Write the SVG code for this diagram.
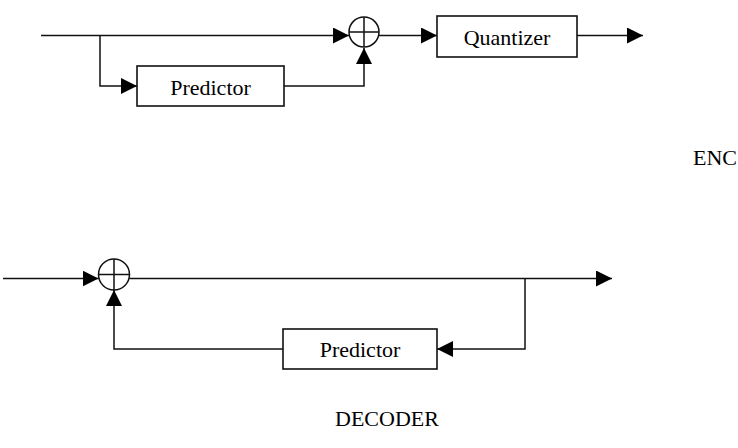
<svg xmlns="http://www.w3.org/2000/svg" width="738" height="448" viewBox="0 0 738 448">
<defs>
<style>
.ln{fill:none;stroke:#111;stroke-width:1.5}
.box{fill:#fff;stroke:#111;stroke-width:1.6}
.sum{fill:#fff;stroke:#111;stroke-width:1.5}
.t{font-family:"Liberation Serif","Times New Roman",serif;font-size:22px;fill:#000}
</style>
<marker id="ah" markerUnits="userSpaceOnUse" markerWidth="16" markerHeight="16" viewBox="0 0 14 14" refX="14" refY="7" orient="auto">
<path d="M0,0 L14,7 L0,14 Z" fill="#000"/>
</marker>
</defs>
<g id="connectors">
<path class="ln" d="M41,35.5 H349" marker-end="url(#ah)"/>
<path class="ln" d="M100,35.5 V86 H137" marker-end="url(#ah)"/>
<path class="ln" d="M284,86 H364 V48" marker-end="url(#ah)"/>
<path class="ln" d="M379,35.5 H437" marker-end="url(#ah)"/>
<path class="ln" d="M577,35.5 H643" marker-end="url(#ah)"/>
<path class="ln" d="M3,278.5 H98.5" marker-end="url(#ah)"/>
<path class="ln" d="M129.5,278.5 H612"  marker-end="url(#ah)"/>
<path class="ln" d="M525,278.5 V349 H437" marker-end="url(#ah)"/>
<path class="ln" d="M283,349 H114 V290" marker-end="url(#ah)"/>
</g>
<g id="enc-sum">
<circle class="sum" cx="364" cy="32" r="15"/>
<path class="ln" d="M349,32 H379 M364,17 V47"/>
</g>
<g id="enc-predictor">
<rect class="box" x="137" y="66" width="147" height="40"/>
<text class="t" x="210.5" y="95" text-anchor="middle">Predictor</text>
</g>
<g id="quantizer">
<rect class="box" x="437" y="16" width="140" height="41"/>
<text class="t" x="507" y="45" text-anchor="middle">Quantizer</text>
</g>
<g id="dec-sum">
<circle class="sum" cx="114" cy="274.5" r="15.5"/>
<path class="ln" d="M98.5,274.5 H129.5 M114,259 V290"/>
</g>
<g id="dec-predictor">
<rect class="box" x="283" y="329" width="154" height="40"/>
<text class="t" x="360" y="357" text-anchor="middle">Predictor</text>
</g>
<g id="labels">
<text class="t" x="693" y="165">ENC</text>
<text class="t" x="387" y="426" text-anchor="middle">DECODER</text>
</g>
</svg>
